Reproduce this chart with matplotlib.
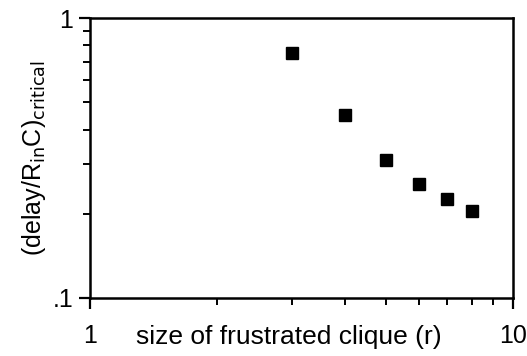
import matplotlib
matplotlib.use("Agg")
import matplotlib.pyplot as plt
from matplotlib.ticker import FixedLocator, FixedFormatter, NullFormatter

plt.rcParams['font.family'] = ['Liberation Sans', 'DejaVu Sans']

# clique size r vs critical delay
clique_size = [3, 4, 5, 6, 7, 8]
delay_crit = [0.75, 0.45, 0.31, 0.255, 0.226, 0.205]

fig = plt.figure(figsize=(5.27, 3.56), dpi=100)
ax = fig.add_axes([0.171, 0.163, 0.802, 0.786])

ax.plot(clique_size, delay_crit, 's', color='black', markersize=8.5)

ax.set_xscale('log')
ax.set_yscale('log')
ax.set_xlim(1, 10)
ax.set_ylim(0.1, 1)

ax.xaxis.set_major_locator(FixedLocator([1, 10]))
ax.xaxis.set_major_formatter(FixedFormatter(['1', '10']))
ax.xaxis.set_minor_locator(FixedLocator(list(range(2, 10))))
ax.xaxis.set_minor_formatter(NullFormatter())
ax.yaxis.set_major_locator(FixedLocator([0.1, 1]))
ax.yaxis.set_major_formatter(FixedFormatter(['.1', '1']))
ax.yaxis.set_minor_locator(FixedLocator([0.2, 0.3, 0.4, 0.5, 0.6, 0.7, 0.8, 0.9]))
ax.yaxis.set_minor_formatter(NullFormatter())

ax.tick_params(which='major', direction='out', length=8, width=1.6, labelsize=18)
ax.tick_params(axis='x', which='major', pad=11)
ax.tick_params(axis='y', which='major', pad=4)
ax.tick_params(which='minor', direction='out', length=5, width=1.4)
for s in ax.spines.values():
    s.set_linewidth(1.8)

ax.set_xlabel('size of frustrated clique (r)', fontsize=19)
ax.xaxis.set_label_coords(0.47, -0.095)
ax.set_ylabel(r'(delay/R$_{\rm in}$C)$_{\rm critical}$', fontsize=18)
ax.yaxis.set_label_coords(-0.1, 0.5)

fig.savefig('out.png', dpi=100)
